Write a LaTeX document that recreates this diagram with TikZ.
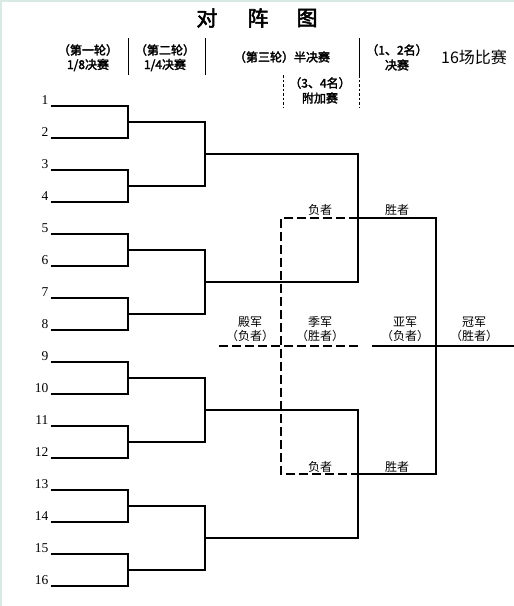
\documentclass[tikz,border=0pt]{standalone}
\usepackage{fontspec}
\setmainfont{Liberation Serif}
\newfontfamily\cjk{Noto Sans CJK SC}
\newfontfamily\cjkb[FakeBold=2.5]{Noto Sans CJK SC}
\begin{document}
\begin{tikzpicture}[x=1pt,y=-1pt,
  bk/.style={line width=2.2pt,line cap=rect},
  dsh/.style={line width=2.2pt,dash pattern=on 9pt off 4pt},
  sep/.style={line width=0.9pt},
  sepd/.style={line width=0.9pt,dash pattern=on 2.5pt off 2pt},
  num/.style={font=\fontsize{13.5}{14}\selectfont,inner sep=0pt,anchor=base east},
  hd/.style={font=\cjkb\fontsize{12}{12}\selectfont,inner sep=0pt},
  lb/.style={font=\cjk\fontsize{12}{12}\selectfont,inner sep=0pt}]
\useasboundingbox (0,0) rectangle (514,606);
\fill[white] (0,0) rectangle (514,606);
\draw[color={rgb,255:red,215;green,235;blue,228},line width=1.5pt] (1,606) -- (1,1) -- (514,1);
% title
\node[font=\cjkb\fontsize{21}{21}\selectfont,inner sep=0pt] (t1) at (207,18) {对};
\node[font=\cjkb\fontsize{21}{21}\selectfont,inner sep=0pt] (t2) at (258,18) {阵};
\node[font=\cjkb\fontsize{21}{21}\selectfont,inner sep=0pt] (t3) at (307,18) {图};
% headers
\node[hd] (h1a) at (88,50) {（第一轮）};
\node[hd] (h1b) at (88,65) {1/8决赛};
\node[hd] (h2a) at (165,50) {（第二轮）};
\node[hd] (h2b) at (165,65) {1/4决赛};
\node[hd] (h3) at (282,57) {（第三轮）半决赛};
\node[hd] (h4a) at (397,50) {（1、2名）};
\node[hd] (h4b) at (397,65) {决赛};
\node[hd] (h5a) at (320,83) {（3、4名）};
\node[hd] (h5b) at (320,98) {附加赛};
\node[font=\cjk\fontsize{16}{16}\selectfont,inner sep=0pt] (h6) at (474,57) {16场比赛};
\draw[sep] (128,38) -- (128,75);
\draw[sep] (205,38) -- (205,75);
\draw[sep] (359,38) -- (359,75);
\draw[sepd] (283,75) -- (283,107);
\draw[sepd] (359,75) -- (359,107);
% players
\foreach \i in {1,...,16}{
  \pgfmathsetmacro\yy{106+32*(\i-1)}
  \coordinate (p\i) at (52,\yy);
  \node[num] (n\i) at (48.5,\yy-1.5) {\i};
}
% round 1
\foreach \k in {1,...,8}{
  \pgfmathtruncatemacro\a{2*\k-1}
  \pgfmathtruncatemacro\b{2*\k}
  \pgfmathsetmacro\yy{122+64*(\k-1)}
  \coordinate (c\k) at (128,\yy);
  \draw[bk] (p\a) -| (c\k) |- (p\b);
}
% round 2
\foreach \j in {1,...,4}{
  \pgfmathtruncatemacro\a{2*\j-1}
  \pgfmathtruncatemacro\b{2*\j}
  \pgfmathsetmacro\yy{154+128*(\j-1)}
  \coordinate (d\j) at (205,\yy);
  \draw[bk] (c\a) -| (d\j) |- (c\b);
}
% semis
\coordinate (e1) at (358,218);
\coordinate (e2) at (358,474);
\draw[bk] (d1) -| (e1) |- (d2);
\draw[bk] (d3) -| (e2) |- (d4);
% final
\coordinate (f) at (436,346);
\draw[bk] (e1) -| (f) |- (e2);
\coordinate (g1) at (373,346);
\coordinate (g2) at (514,346);
\draw[bk] (g1) -- (g2);
% losers (dashed)
\coordinate (l2) at (281,474);
\draw[dsh] (e1) -| (l2) -- (e2);
\coordinate (m1) at (219,346);
\coordinate (m2) at (358,346);
\draw[dsh] (m1) -- (m2);
% labels
\node[lb] (fz1) at (320,210) {负者};
\node[lb] (sz1) at (397,210) {胜者};
\node[lb] (fz2) at (320,467) {负者};
\node[lb] (sz2) at (397,467) {胜者};
\node[lb] (dj1) at (250,322) {殿军};
\node[lb] (dj2) at (250,336) {（负者）};
\node[lb] (jj1) at (320,322) {季军};
\node[lb] (jj2) at (320,336) {（胜者）};
\node[lb] (yj1) at (405,322) {亚军};
\node[lb] (yj2) at (405,336) {（负者）};
\node[lb] (gj1) at (474,322) {冠军};
\node[lb] (gj2) at (474,336) {（胜者）};
\end{tikzpicture}
\end{document}
